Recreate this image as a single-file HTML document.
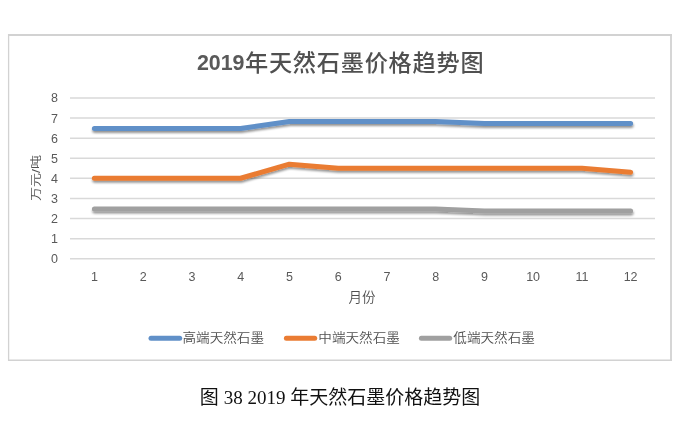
<!DOCTYPE html>
<html><head><meta charset="utf-8">
<style>
html,body{margin:0;padding:0;background:#fff;}
body{width:680px;height:439px;overflow:hidden;position:relative;}
svg{position:absolute;left:0;top:0;}
.cap{position:absolute;left:0;top:385px;width:680px;text-align:center;font-family:"Liberation Serif","Noto Sans CJK SC",serif;font-size:19px;color:#111;line-height:26px;white-space:nowrap;}
.cap .c{font-family:"Liberation Sans","Noto Sans CJK SC",sans-serif;}
</style></head>
<body>
<svg width="680" height="439" viewBox="0 0 680 439">
<g stroke="#d2d2d2" fill="none">
<line x1="8" x2="672" y1="35" y2="35" stroke-width="2"/>
<line x1="8.6" x2="8.6" y1="34" y2="361" stroke-width="1.3"/>
<line x1="671" x2="671" y1="34" y2="361" stroke-width="1.8"/>
<line x1="8" x2="672" y1="360.2" y2="360.2" stroke-width="1.6"/>
</g>
<text transform="translate(196.9,69.8) scale(0.965,1)" font-family="Liberation Sans, sans-serif" font-weight="bold" font-size="22.2" fill="#595959">2019</text>
<text x="245" y="70.9" font-family="Liberation Sans, Noto Sans CJK SC, sans-serif" font-weight="500" font-size="23.2" letter-spacing="0.75" fill="#505050">年天然石墨价格趋势图</text>
<g stroke="#d9d9d9" stroke-width="1.5">
<line x1="70" x2="655" y1="258.75" y2="258.75" />
<line x1="70" x2="655" y1="238.65" y2="238.65" />
<line x1="70" x2="655" y1="218.55" y2="218.55" />
<line x1="70" x2="655" y1="198.45" y2="198.45" />
<line x1="70" x2="655" y1="178.35" y2="178.35" />
<line x1="70" x2="655" y1="158.25" y2="158.25" />
<line x1="70" x2="655" y1="138.15" y2="138.15" />
<line x1="70" x2="655" y1="118.05" y2="118.05" />
<line x1="70" x2="655" y1="97.95" y2="97.95" />
</g>
<g font-family="Liberation Sans, sans-serif" font-size="12.5" fill="#595959" text-anchor="end">
<text x="58" y="263.25">0</text>
<text x="58" y="243.15">1</text>
<text x="58" y="223.05">2</text>
<text x="58" y="202.95">3</text>
<text x="58" y="182.85">4</text>
<text x="58" y="162.75">5</text>
<text x="58" y="142.65">6</text>
<text x="58" y="122.55">7</text>
<text x="58" y="102.45">8</text>
</g>
<g font-family="Liberation Sans, sans-serif" font-size="12.5" fill="#595959" text-anchor="middle">
<text x="94.38" y="281">1</text>
<text x="143.12" y="281">2</text>
<text x="191.88" y="281">3</text>
<text x="240.62" y="281">4</text>
<text x="289.38" y="281">5</text>
<text x="338.12" y="281">6</text>
<text x="386.88" y="281">7</text>
<text x="435.62" y="281">8</text>
<text x="484.38" y="281">9</text>
<text x="533.12" y="281">10</text>
<text x="581.88" y="281">11</text>
<text x="630.62" y="281">12</text>
</g>
<text transform="translate(40.3,178) rotate(-90) scale(1.08,0.86)" text-anchor="middle" font-family="Liberation Sans, Noto Sans CJK SC, sans-serif" font-size="13" font-weight="350" fill="#505050">万元/吨</text>
<text x="362" y="302.3" text-anchor="middle" font-family="Liberation Sans, Noto Sans CJK SC, sans-serif" font-size="13.5" font-weight="350" fill="#505050">月份</text>
<defs><filter id="sh" x="-5%" y="-50%" width="110%" height="200%"><feDropShadow dx="0.4" dy="2" stdDeviation="0.9" flood-color="#000" flood-opacity="0.42"/></filter></defs>
<g fill="none" stroke-width="5" stroke-linecap="round" stroke-linejoin="round" filter="url(#sh)">
<polyline stroke="#6090c8" points="94.38,128.50 143.12,128.50 191.88,128.50 240.62,128.50 289.38,121.47 338.12,121.47 386.88,121.47 435.62,121.47 484.38,123.47 533.12,123.47 581.88,123.47 630.62,123.47"/>
<polyline stroke="#ea7c33" points="94.38,178.25 143.12,178.25 191.88,178.25 240.62,178.25 289.38,164.18 338.12,168.20 386.88,168.20 435.62,168.20 484.38,168.20 533.12,168.20 581.88,168.20 630.62,172.22"/>
<polyline stroke="#a0a0a0" points="94.38,208.90 143.12,208.90 191.88,208.90 240.62,208.90 289.38,208.90 338.12,208.90 386.88,208.90 435.62,208.90 484.38,210.91 533.12,210.91 581.88,210.91 630.62,210.91"/>
</g>
<g stroke-width="5" stroke-linecap="round">
<line x1="151" x2="179.7" y1="338.3" y2="338.3" stroke="#6090c8"/>
<line x1="286.4" x2="314.7" y1="338.3" y2="338.3" stroke="#ea7c33"/>
<line x1="421.4" x2="449.7" y1="338.3" y2="338.3" stroke="#a0a0a0"/>
</g>
<g font-family="Liberation Sans, Noto Sans CJK SC, sans-serif" font-size="13.6" font-weight="350" fill="#505050">
<text transform="translate(182.5,341.9) scale(1,0.94)">高端天然石墨</text>
<text transform="translate(318.3,341.9) scale(1,0.94)">中端天然石墨</text>
<text transform="translate(453.3,341.9) scale(1,0.94)">低端天然石墨</text>
</g>
</svg>
<div class="cap"><span class="c">图</span> 38 2019 <span class="c">年天然石墨价格趋势图</span></div>
</body></html>
